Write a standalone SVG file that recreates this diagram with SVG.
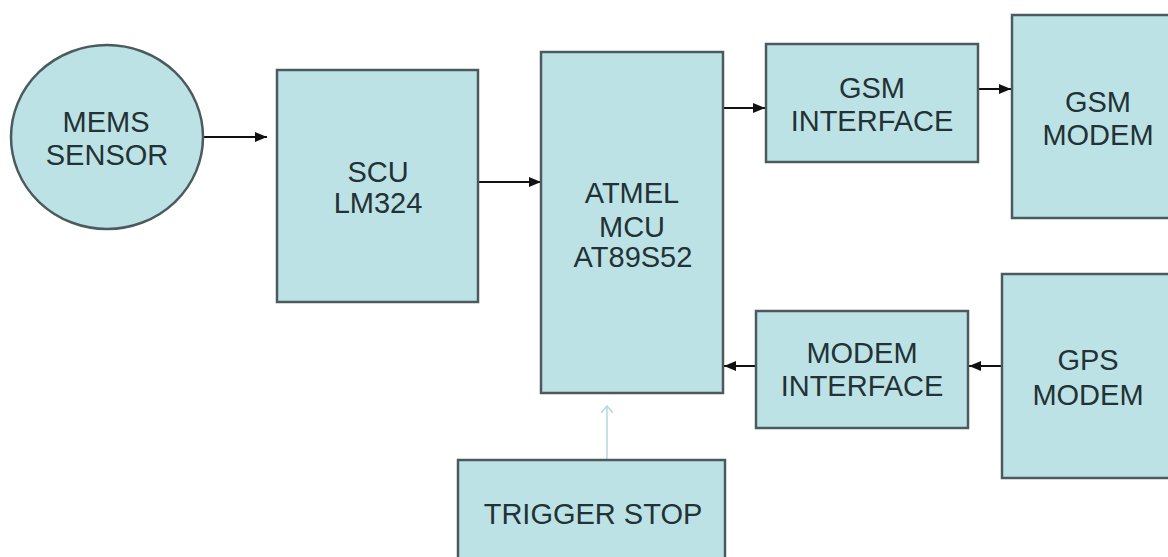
<svg xmlns="http://www.w3.org/2000/svg" width="1168" height="557" viewBox="0 0 1168 557">
<defs>
<style>
.n{fill:#bde2e6;stroke:#4b5b5d;stroke-width:2.5}
.t{font-family:"Liberation Sans",Arial,sans-serif;font-size:29px;fill:#223235;text-anchor:middle}
.c{stroke:#111;stroke-width:2;fill:none}
</style>
<marker id="ah" viewBox="0 0 12 10" refX="12" refY="5" markerWidth="12" markerHeight="10" markerUnits="userSpaceOnUse" orient="auto">
<path d="M0,0 L12,5 L0,10 Z" fill="#111"/>
</marker>
<marker id="lah" viewBox="0 0 14 12" refX="7" refY="6" markerWidth="14" markerHeight="12" markerUnits="userSpaceOnUse" orient="auto">
<path d="M0,0 L7,6 L0,12" fill="none" stroke="#b3d9dd" stroke-width="1.5"/>
</marker>
</defs>
<rect width="1168" height="557" fill="#fff"/>
<g id="connectors">
<line class="c" x1="203" y1="137" x2="267" y2="137" marker-end="url(#ah)"/>
<line class="c" x1="478" y1="182" x2="541" y2="182" marker-end="url(#ah)"/>
<line class="c" x1="723" y1="108" x2="765" y2="108" marker-end="url(#ah)"/>
<line class="c" x1="978" y1="89" x2="1011" y2="89" marker-end="url(#ah)"/>
<line class="c" x1="755" y1="366" x2="724" y2="366" marker-end="url(#ah)"/>
<line class="c" x1="1001" y1="366" x2="969" y2="366" marker-end="url(#ah)"/>
<line x1="607" y1="459" x2="607" y2="406" stroke="#b3d9dd" stroke-width="1.5" marker-end="url(#lah)"/>
</g>
<g id="mems">
<ellipse class="n" cx="107" cy="137" rx="96" ry="92"/>
<text class="t" x="106" y="132">MEMS</text>
<text class="t" x="107" y="165">SENSOR</text>
</g>
<g id="scu">
<rect class="n" x="277" y="70" width="201" height="232"/>
<text class="t" x="378" y="182">SCU</text>
<text class="t" x="378" y="213">LM324</text>
</g>
<g id="mcu">
<rect class="n" x="541" y="52" width="182" height="341"/>
<text class="t" x="632" y="203">ATMEL</text>
<text class="t" x="632" y="237">MCU</text>
<text class="t" x="633" y="267">AT89S52</text>
</g>
<g id="gsm-interface">
<rect class="n" x="766" y="44" width="212" height="118"/>
<text class="t" x="872" y="98">GSM</text>
<text class="t" x="872" y="131">INTERFACE</text>
</g>
<g id="gsm-modem">
<rect class="n" x="1012" y="15" width="180" height="203"/>
<text class="t" x="1098" y="112">GSM</text>
<text class="t" x="1098" y="145">MODEM</text>
</g>
<g id="modem-interface">
<rect class="n" x="756" y="311" width="212" height="117"/>
<text class="t" x="862" y="363">MODEM</text>
<text class="t" x="862" y="396">INTERFACE</text>
</g>
<g id="gps-modem">
<rect class="n" x="1002" y="274" width="180" height="204"/>
<text class="t" x="1088" y="370">GPS</text>
<text class="t" x="1088" y="405">MODEM</text>
</g>
<g id="trigger-stop">
<rect class="n" x="458" y="460" width="267" height="120"/>
<text class="t" x="593" y="524">TRIGGER STOP</text>
</g>
</svg>
